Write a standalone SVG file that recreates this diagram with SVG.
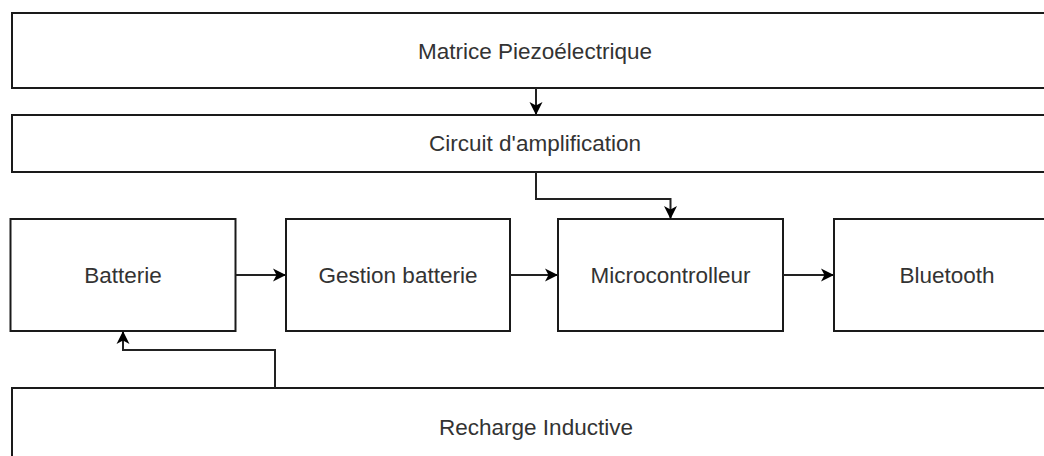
<svg xmlns="http://www.w3.org/2000/svg" width="1044" height="456" viewBox="0 0 1044 456">
<defs>
<style>
.box{fill:#fff;stroke:#1a1a1a;stroke-width:2}
.lbl{font-family:"Liberation Sans",Arial,sans-serif;font-size:22.5px;fill:#333;text-anchor:middle;dominant-baseline:central}
.edge{fill:none;stroke:#222;stroke-width:2;marker-end:url(#arr)}
</style>
<marker id="arr" viewBox="0 0 13 14" refX="13" refY="7" markerWidth="13" markerHeight="14" markerUnits="userSpaceOnUse" orient="auto">
<path d="M0,0.5 L13,7 L0,13.5 L3.5,7 Z" fill="#000"/>
</marker>
</defs>
<rect width="1044" height="456" fill="#fff"/>
<g id="matrice"><rect class="box" x="12" y="13" width="1060" height="75"/><text class="lbl" x="535" y="51">Matrice Piezoélectrique</text></g>
<g id="circuit"><rect class="box" x="12" y="115" width="1060" height="57"/><text class="lbl" x="535" y="143">Circuit d'amplification</text></g>
<g id="batterie"><rect class="box" x="10.5" y="219" width="225" height="112"/><text class="lbl" x="123" y="275">Batterie</text></g>
<g id="gestion"><rect class="box" x="286" y="219" width="224" height="112"/><text class="lbl" x="398" y="275">Gestion batterie</text></g>
<g id="micro"><rect class="box" x="558" y="219" width="225" height="112"/><text class="lbl" x="670.5" y="275">Microcontrolleur</text></g>
<g id="bluetooth"><rect class="box" x="834" y="219" width="225" height="112"/><text class="lbl" x="947" y="275">Bluetooth</text></g>
<g id="recharge"><rect class="box" x="12" y="388" width="1060" height="80"/><text class="lbl" x="536" y="427">Recharge Inductive</text></g>
<g id="connectors">
<path class="edge" d="M536,88 L536,115"/>
<path class="edge" d="M536,172 L536,199 L670.5,199 L670.5,219"/>
<path class="edge" d="M235.5,275 L286,275"/>
<path class="edge" d="M510,275 L558,275"/>
<path class="edge" d="M783,275 L834,275"/>
<path class="edge" d="M275,388 L275,350 L123,350 L123,331"/>
</g>
</svg>
